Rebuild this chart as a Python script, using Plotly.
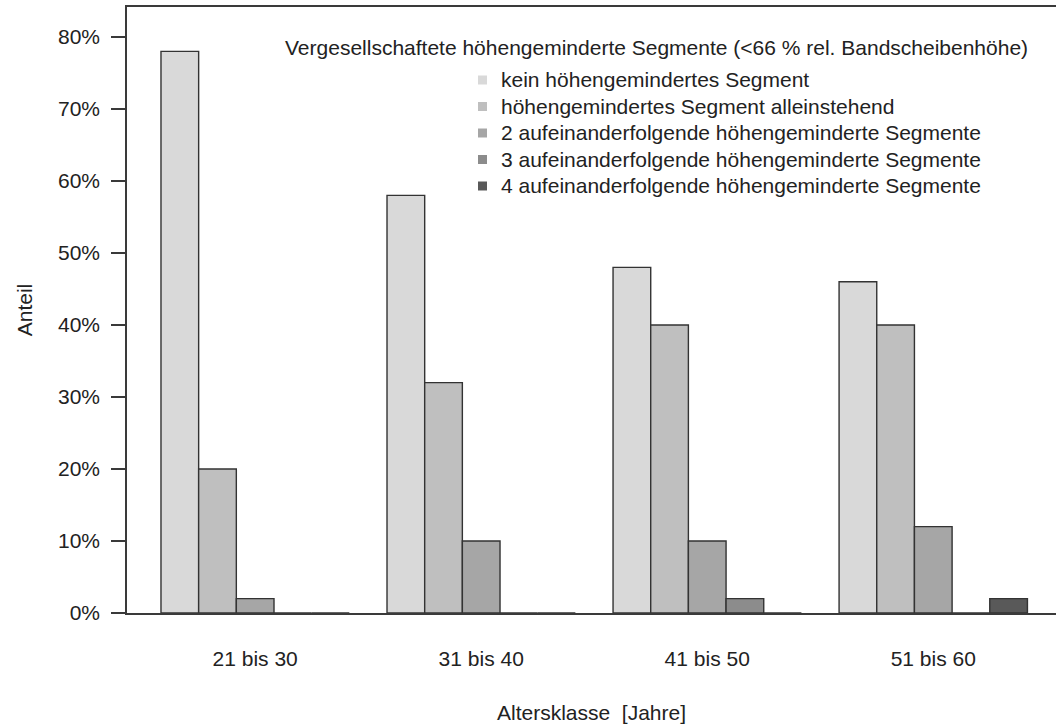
import plotly.graph_objects as go

categories = ["21 bis 30", "31 bis 40", "41 bis 50", "51 bis 60"]
series_names = [
    "kein höhengemindertes Segment",
    "höhengemindertes Segment alleinstehend",
    "2 aufeinanderfolgende höhengeminderte Segmente",
    "3 aufeinanderfolgende höhengeminderte Segmente",
    "4 aufeinanderfolgende höhengeminderte Segmente",
]
kein = [78, 58, 48, 46]
alleinstehend = [20, 32, 40, 40]
zwei = [2, 10, 10, 12]
drei = [0, 0, 2, 0]
vier = [0, 0, 0, 2]
series_values = [kein, alleinstehend, zwei, drei, vier]
colors = ["#d9d9d9", "#bfbfbf", "#a6a6a6", "#8c8c8c", "#595959"]
y_ticks = [0, 10, 20, 30, 40, 50, 60, 70, 80]

FONT = "Liberation Sans, Arial, Helvetica, sans-serif"
FS = 21
TXT = "#222222"

L, R, T, B = 127, 0, 7, 113
W, H = 1056, 726
pw = W - L - R
ph = H - T - B


def px_x(x):
    return (x - L) / pw


def px_y(y):
    return (H - B - y) / ph


fig = go.Figure()
for name, vals, col in zip(series_names, series_values, colors):
    fig.add_trace(go.Bar(
        x=categories, y=vals, name=name,
        marker=dict(color=col, line=dict(color="#333333", width=1.4)),
    ))

# legend drawn as text + swatches (R-style legend without box)
annotations = [dict(
    text="Vergesellschaftete höhengeminderte Segmente (&lt;66 % rel. Bandscheibenhöhe)",
    xref="paper", yref="paper",
    x=px_x(283), xanchor="left",
    y=px_y(47), yanchor="middle",
    showarrow=False, font=dict(family=FONT, size=FS, color=TXT),
)]
shapes = []
for i, (name, col) in enumerate(zip(series_names, colors)):
    yc = 80 + 26.5 * i
    annotations.append(dict(
        text=name, xref="paper", yref="paper",
        x=px_x(499), xanchor="left", y=px_y(yc), yanchor="middle",
        showarrow=False, font=dict(family=FONT, size=FS, color=TXT),
    ))
    shapes.append(dict(
        type="rect", xref="paper", yref="paper",
        x0=px_x(478), x1=px_x(487), y0=px_y(yc + 4.5), y1=px_y(yc - 4.5),
        fillcolor=col, line=dict(width=0),
    ))

fig.update_layout(
    width=W, height=H,
    margin=dict(l=L, r=R, t=T, b=B, pad=0),
    paper_bgcolor="white", plot_bgcolor="white",
    barmode="group", bargap=1/6, bargroupgap=0,
    font=dict(family=FONT, size=FS, color=TXT),
    showlegend=False,
    annotations=annotations,
    shapes=shapes,
)

fig.update_xaxes(
    type="category", range=[-0.567, 3.543],
    showline=True, mirror=True, linecolor="#3a3a3a", linewidth=1.5,
    ticks="", showgrid=False, zeroline=False,
    ticklabelstandoff=26,
    title=dict(text="Altersklasse\u00a0 [Jahre]", standoff=36,
               font=dict(family=FONT, size=FS, color=TXT)),
)
fig.update_yaxes(
    range=[0, ph / 7.2],
    tickvals=y_ticks, ticktext=[f"{v}%" for v in y_ticks],
    ticks="outside", ticklen=14, tickwidth=1.5, tickcolor="#3a3a3a",
    showline=True, mirror=False, linecolor="#3a3a3a", linewidth=1.5,
    showgrid=False, zeroline=False,
    ticklabelstandoff=7,
    title=dict(text="Anteil", standoff=20,
               font=dict(family=FONT, size=FS, color=TXT)),
)

fig.write_html(
    "out.html",
    config={"displayModeBar": False},
    post_script="document.body.style.margin='0';document.body.style.overflow='hidden';",
)
